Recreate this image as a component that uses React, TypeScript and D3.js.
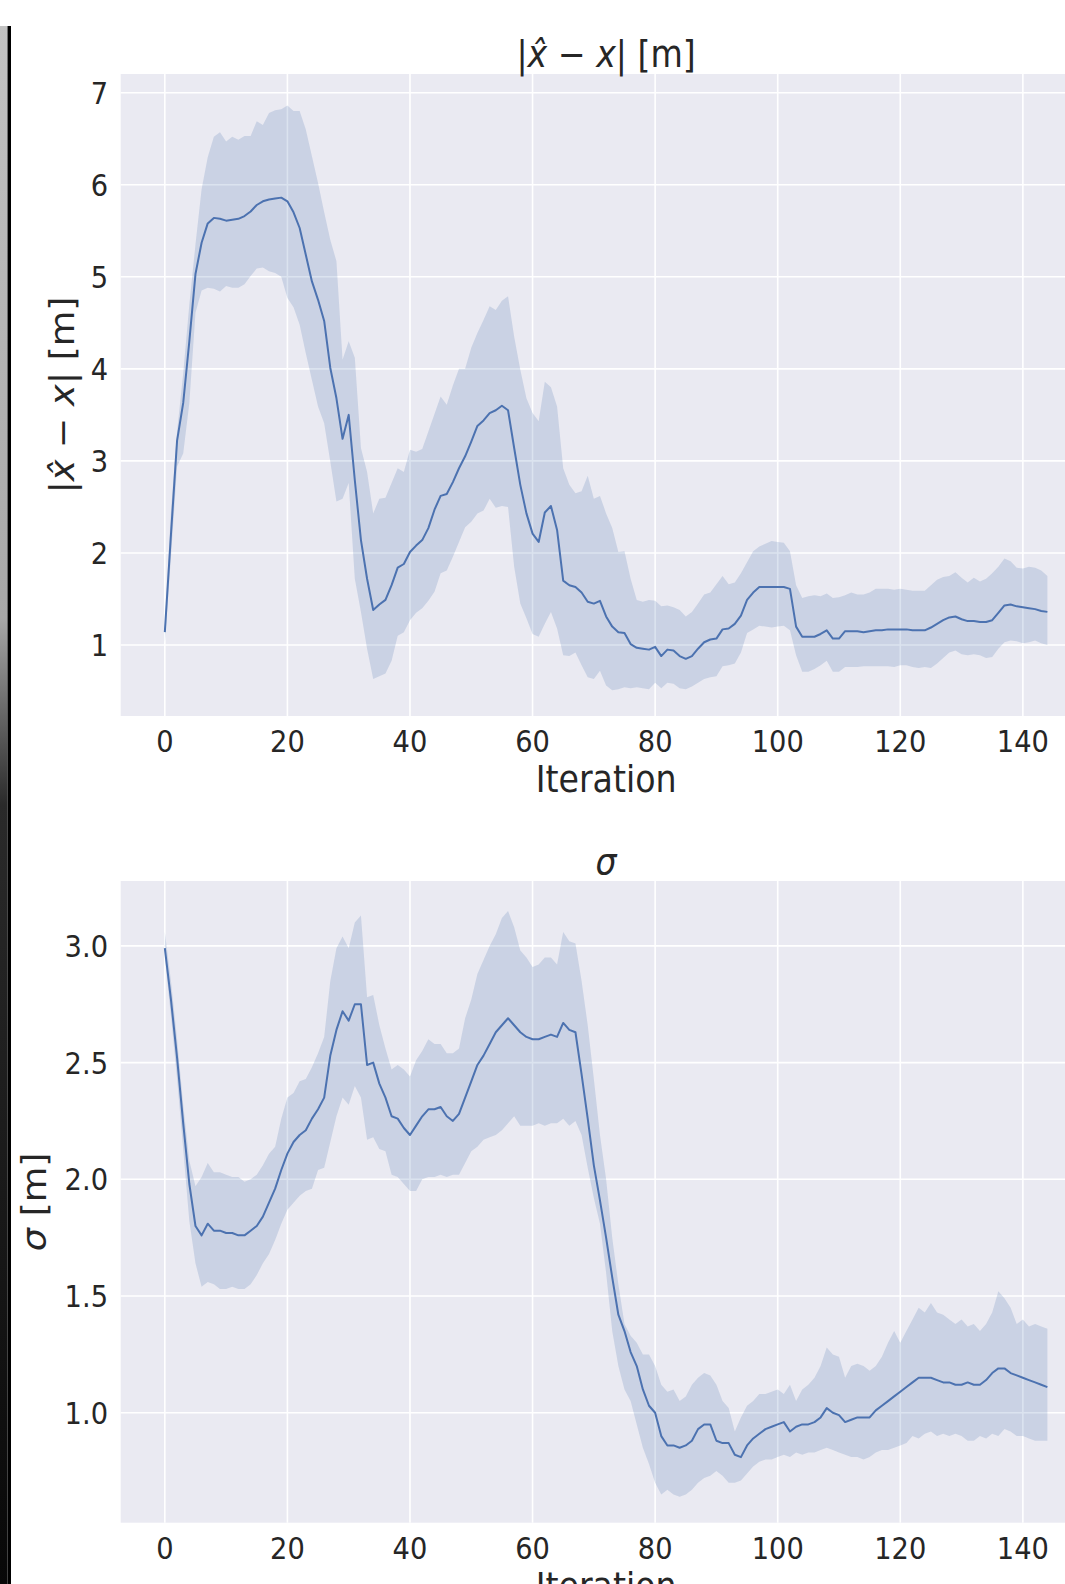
import React from 'react'
import * as d3 from 'd3'

// iterations 0..144, one value per iteration
const ITERATIONS = d3.range(145)
const X_TICKS = [0, 20, 40, 60, 80, 100, 120, 140]
const ERR_TICKS = [1, 2, 3, 4, 5, 6, 7]
const SIG_TICKS = [1.0, 1.5, 2.0, 2.5, 3.0]

// |x̂ - x| [m] — mean and CI band
const errMean = [
  1.14, 2.2, 3.22, 3.63, 4.3, 5.03, 5.37, 5.58, 5.64, 5.63, 5.61, 5.62, 5.63, 5.66, 5.71, 5.78, 5.82, 5.84, 5.85, 5.86,
  5.82, 5.7, 5.53, 5.24, 4.95, 4.75, 4.52, 4.01, 3.68, 3.24, 3.5, 2.79, 2.14, 1.72, 1.38, 1.44, 1.49, 1.65, 1.84, 1.88,
  2.01, 2.08, 2.14, 2.27, 2.47, 2.62, 2.64, 2.77, 2.92, 3.05, 3.21, 3.38, 3.44, 3.52, 3.55, 3.6, 3.55, 3.14, 2.74, 2.43,
  2.21, 2.12, 2.44, 2.51, 2.25, 1.7, 1.65, 1.63, 1.57, 1.47, 1.45, 1.48, 1.31, 1.2, 1.14, 1.13, 1.01, 0.97, 0.96, 0.95,
  0.98, 0.88, 0.95, 0.94, 0.88, 0.85, 0.88, 0.96, 1.03, 1.06, 1.07, 1.17, 1.18, 1.23, 1.32, 1.49, 1.57, 1.63, 1.63, 1.63,
  1.63, 1.63, 1.61, 1.2, 1.09, 1.09, 1.09, 1.12, 1.16, 1.07, 1.07, 1.15, 1.15, 1.15, 1.14, 1.15, 1.16, 1.16, 1.17, 1.17,
  1.17, 1.17, 1.16, 1.16, 1.16, 1.19, 1.23, 1.27, 1.3, 1.31, 1.28, 1.26, 1.26, 1.25, 1.25, 1.27, 1.35, 1.43, 1.44, 1.42,
  1.41, 1.4, 1.39, 1.37, 1.36,
]
const errLo = [
  1.02, 1.95, 2.94, 3.08, 3.63, 4.61, 4.85, 4.88, 4.87, 4.84, 4.9, 4.88, 4.88, 4.92, 5.01, 5.09, 5.1, 5.06, 5.04, 5.0,
  4.77, 4.67, 4.48, 4.17, 3.88, 3.59, 3.41, 2.99, 2.56, 2.59, 2.76, 1.72, 1.36, 0.96, 0.63, 0.66, 0.69, 0.83, 1.1, 1.14,
  1.27, 1.35, 1.4, 1.48, 1.58, 1.78, 1.81, 1.96, 2.12, 2.28, 2.34, 2.43, 2.46, 2.59, 2.49, 2.51, 2.5, 1.85, 1.45, 1.29,
  1.12, 1.09, 1.23, 1.36, 1.18, 0.89, 0.88, 0.92, 0.78, 0.65, 0.63, 0.72, 0.56, 0.51, 0.52, 0.54, 0.53, 0.54, 0.53, 0.52,
  0.59, 0.53, 0.59, 0.58, 0.53, 0.52, 0.55, 0.59, 0.63, 0.65, 0.66, 0.77, 0.78, 0.8, 0.92, 1.13, 1.17, 1.21, 1.2, 1.19,
  1.2, 1.21, 1.16, 0.89, 0.71, 0.71, 0.74, 0.78, 0.83, 0.71, 0.71, 0.76, 0.76, 0.76, 0.77, 0.77, 0.77, 0.77, 0.77, 0.76,
  0.78, 0.78, 0.76, 0.75, 0.76, 0.75, 0.8, 0.86, 0.92, 0.94, 0.9, 0.89, 0.9, 0.89, 0.86, 0.87, 0.96, 1.03, 1.05, 1.04,
  1.02, 1.03, 1.05, 1.02, 1.0,
]
const errHi = [
  1.2, 2.45, 3.32, 3.95, 4.7, 5.35, 5.95, 6.3, 6.52, 6.57, 6.47, 6.52, 6.49, 6.53, 6.53, 6.69, 6.65, 6.78, 6.81, 6.82,
  6.86, 6.8, 6.8, 6.6, 6.31, 6.02, 5.7, 5.4, 5.17, 4.1, 4.3, 4.12, 3.14, 2.88, 2.43, 2.59, 2.6, 2.76, 2.92, 2.88,
  3.12, 3.1, 3.13, 3.32, 3.51, 3.7, 3.61, 3.82, 4.0, 4.0, 4.23, 4.39, 4.53, 4.68, 4.64, 4.74, 4.79, 4.35, 3.99, 3.68,
  3.52, 3.43, 3.86, 3.8, 3.59, 2.92, 2.74, 2.65, 2.67, 2.84, 2.59, 2.62, 2.43, 2.27, 2.01, 2.02, 1.72, 1.49, 1.47, 1.49,
  1.48, 1.42, 1.43, 1.41, 1.38, 1.31, 1.36, 1.45, 1.55, 1.57, 1.66, 1.75, 1.66, 1.68, 1.78, 1.9, 2.02, 2.07, 2.1, 2.13,
  2.12, 2.11, 2.02, 1.65, 1.51, 1.53, 1.54, 1.53, 1.56, 1.51, 1.52, 1.54, 1.57, 1.55, 1.55, 1.57, 1.61, 1.61, 1.61, 1.6,
  1.61, 1.6, 1.59, 1.59, 1.59, 1.65, 1.71, 1.74, 1.75, 1.79, 1.73, 1.68, 1.73, 1.69, 1.72, 1.78, 1.85, 1.94, 1.91, 1.84,
  1.83, 1.85, 1.84, 1.81, 1.75,
]

// sigma [m] — mean and CI band
const sigMean = [
  2.99, 2.77, 2.52, 2.24, 1.98, 1.8, 1.76, 1.81, 1.78, 1.78, 1.77, 1.77, 1.76, 1.76, 1.78, 1.8, 1.84, 1.9, 1.96, 2.04,
  2.11, 2.16, 2.19, 2.21, 2.26, 2.3, 2.35, 2.53, 2.64, 2.72, 2.68, 2.75, 2.75, 2.49, 2.5, 2.41, 2.35, 2.27, 2.26, 2.22,
  2.19, 2.23, 2.27, 2.3, 2.3, 2.31, 2.27, 2.25, 2.28, 2.35, 2.42, 2.49, 2.53, 2.58, 2.63, 2.66, 2.69, 2.66, 2.63, 2.61,
  2.6, 2.6, 2.61, 2.62, 2.61, 2.67, 2.64, 2.63, 2.45, 2.26, 2.06, 1.91, 1.75, 1.58, 1.42, 1.35, 1.26, 1.2, 1.1, 1.03,
  1.0, 0.9, 0.86, 0.86, 0.85, 0.86, 0.88, 0.93, 0.95, 0.95, 0.88, 0.87, 0.87, 0.82, 0.81, 0.86, 0.89, 0.91, 0.93, 0.94,
  0.95, 0.96, 0.92, 0.94, 0.95, 0.95, 0.96, 0.98, 1.02, 1.0, 0.99, 0.96, 0.97, 0.98, 0.98, 0.98, 1.01, 1.03, 1.05, 1.07,
  1.09, 1.11, 1.13, 1.15, 1.15, 1.15, 1.14, 1.13, 1.13, 1.12, 1.12, 1.13, 1.12, 1.12, 1.14, 1.17, 1.19, 1.19, 1.17, 1.16,
  1.15, 1.14, 1.13, 1.12, 1.11,
]
const sigLo = [
  2.95, 2.7, 2.43, 2.13, 1.82, 1.64, 1.54, 1.56, 1.55, 1.53, 1.53, 1.54, 1.53, 1.53, 1.55, 1.59, 1.64, 1.68, 1.74, 1.81,
  1.87, 1.9, 1.93, 1.95, 1.96, 2.04, 2.05, 2.16, 2.27, 2.35, 2.32, 2.4, 2.35, 2.17, 2.18, 2.13, 2.12, 2.02, 2.01, 1.98,
  1.95, 1.95, 2.0, 2.01, 2.01, 2.02, 2.01, 2.02, 2.02, 2.07, 2.12, 2.14, 2.17, 2.18, 2.19, 2.21, 2.24, 2.27, 2.23, 2.23,
  2.23, 2.24, 2.23, 2.24, 2.24, 2.26, 2.23, 2.25, 2.19, 2.05, 1.92, 1.81, 1.6, 1.35, 1.2, 1.1, 1.05, 0.95, 0.85, 0.78,
  0.7, 0.65, 0.67, 0.65, 0.64, 0.65, 0.67, 0.7, 0.72, 0.73, 0.75, 0.73, 0.7, 0.7, 0.71, 0.74, 0.77, 0.79, 0.8, 0.8,
  0.81, 0.82, 0.81, 0.83, 0.82, 0.83, 0.83, 0.84, 0.85, 0.84, 0.83, 0.82, 0.81, 0.81, 0.8, 0.81, 0.83, 0.84, 0.84, 0.85,
  0.86, 0.87, 0.9, 0.89, 0.91, 0.92, 0.9, 0.91, 0.9, 0.91, 0.9, 0.88, 0.88, 0.9, 0.89, 0.91, 0.9, 0.93, 0.92, 0.9,
  0.9, 0.89, 0.88, 0.88, 0.88,
]
const sigHi = [
  3.06, 2.85, 2.6, 2.32, 2.08, 1.97, 2.01, 2.07, 2.03, 2.03, 2.02, 2.01, 2.01, 1.99, 2.0, 2.02, 2.06, 2.11, 2.14, 2.26,
  2.35, 2.37, 2.42, 2.43, 2.48, 2.54, 2.61, 2.85, 2.99, 3.04, 2.99, 3.1, 3.13, 2.78, 2.79, 2.66, 2.56, 2.47, 2.49, 2.47,
  2.44, 2.51, 2.55, 2.6, 2.58, 2.58, 2.54, 2.54, 2.56, 2.69, 2.77, 2.88, 2.94, 3.0, 3.05, 3.12, 3.15, 3.08, 2.98, 2.95,
  2.91, 2.92, 2.95, 2.95, 2.92, 3.06, 3.02, 3.01, 2.85, 2.66, 2.43, 2.19, 2.0, 1.75, 1.55, 1.38, 1.33, 1.3, 1.25, 1.25,
  1.2, 1.12, 1.09, 1.1, 1.05, 1.07, 1.12, 1.15, 1.17, 1.16, 1.12, 1.05, 1.02, 0.92, 0.98, 1.03, 1.05, 1.08, 1.08, 1.09,
  1.1, 1.08, 1.12, 1.05, 1.1, 1.12, 1.15, 1.2, 1.28, 1.25, 1.24, 1.15, 1.2, 1.21, 1.2, 1.18, 1.2, 1.24, 1.3, 1.35,
  1.3, 1.35, 1.4, 1.45, 1.43, 1.47, 1.43, 1.42, 1.4, 1.38, 1.4, 1.37, 1.38, 1.35, 1.38, 1.43, 1.52, 1.49, 1.45, 1.38,
  1.4, 1.37, 1.38, 1.37, 1.36,
]

const W = 1065
const H = 1584
const FONT = '"DejaVu Sans", Verdana, sans-serif'
const SQUISH = 0.91 // the source picture is narrowed horizontally
const INK = '#262626'
const BG = '#EAEAF2'
const LINE = '#4C72B0'
const TICK_SIZE = 30
const LABEL_SIZE = 36.5

const PLOT_LEFT = 120.7
const PLOT_RIGHT = 1091.5 // runs past the right edge of the picture
const X_DOMAIN = [-7.2, 151.2]

function Txt({ x, y, size, anchor = 'middle', rotate = 0, children }) {
  const tf = `translate(${x},${y}) scale(${SQUISH},1)` + (rotate ? ` rotate(${rotate})` : '')
  return (
    <text transform={tf} fontFamily={FONT} fontSize={size} fill={INK} textAnchor={anchor}>
      {children}
    </text>
  )
}

function Panel({ top, bottom, yDomain, yTicks, fmt, mean, lo, hi, title, ylabel, ylabelX }) {
  const x = d3.scaleLinear().domain(X_DOMAIN).range([PLOT_LEFT, PLOT_RIGHT])
  const y = d3.scaleLinear().domain(yDomain).range([bottom, top])
  const n = Math.min(mean.length, lo.length, hi.length)
  const pts = ITERATIONS.slice(0, n)

  const band = d3.area<number>()
    .x(i => x(i))
    .y0(i => y(lo[i]))
    .y1(i => y(hi[i]))
  const line = d3.line<number>()
    .x(i => x(i))
    .y(i => y(mean[i]))

  const midX = (PLOT_LEFT + PLOT_RIGHT) / 2
  const midY = (top + bottom) / 2

  return (
    <g>
      <rect x={PLOT_LEFT} y={top} width={PLOT_RIGHT - PLOT_LEFT} height={bottom - top} fill={BG} />
      {yTicks.map(t => (
        <line key={'gy' + t} x1={PLOT_LEFT} x2={PLOT_RIGHT} y1={y(t)} y2={y(t)} stroke="#fff" strokeWidth={1.6} />
      ))}
      {X_TICKS.map(t => (
        <line key={'gx' + t} x1={x(t)} x2={x(t)} y1={top} y2={bottom} stroke="#fff" strokeWidth={1.6} />
      ))}
      <path d={band(pts) || ''} fill={LINE} fillOpacity={0.2} stroke="none" />
      <path d={line(pts) || ''} fill="none" stroke={LINE} strokeWidth={2} strokeLinejoin="round" />

      {yTicks.map(t => (
        <Txt key={'ty' + t} x={108} y={y(t) + 10.9} size={TICK_SIZE} anchor="end">{fmt(t)}</Txt>
      ))}
      {X_TICKS.map(t => (
        <Txt key={'tx' + t} x={x(t)} y={bottom + 36} size={TICK_SIZE}>{String(t)}</Txt>
      ))}
      <Txt x={midX} y={bottom + 76} size={LABEL_SIZE}>Iteration</Txt>
      <Txt x={midX} y={top - 7} size={LABEL_SIZE}>{title}</Txt>
      <Txt x={ylabelX} y={midY} size={LABEL_SIZE} rotate={-90}>{ylabel}</Txt>
    </g>
  )
}

const errText = (
  <>
    <tspan>|</tspan>
    <tspan fontStyle="italic">{'x\u0302'}</tspan>
    <tspan>{' \u2212 '}</tspan>
    <tspan fontStyle="italic">x</tspan>
    <tspan>{'|  [m]'}</tspan>
  </>
)
const sigTitle = <tspan fontStyle="italic">σ</tspan>
const sigLabel = (
  <>
    <tspan fontStyle="italic">σ</tspan>
    <tspan>{' [m]'}</tspan>
  </>
)

export default function App() {
  return (
    <svg
      width={W}
      height={H}
      viewBox={`0 0 ${W} ${H}`}
      style={{ position: 'absolute', left: 0, top: 0, display: 'block', background: '#fff' }}
    >
      <defs>
        <linearGradient id="edge" x1="0" y1="0" x2="0" y2="1">
          <stop offset="0" stopColor="#c2c2c2" />
          <stop offset="0.38" stopColor="#a8a8a8" />
          <stop offset="0.5" stopColor="#2a2a2a" />
          <stop offset="1" stopColor="#080808" />
        </linearGradient>
      </defs>
      <rect x={0} y={0} width={W} height={H} fill="#fff" />
      {/* scanned left edge */}
      <rect x={0} y={26} width={7.5} height={H - 26} fill="url(#edge)" />
      <rect x={7.5} y={26} width={3.5} height={H - 26} fill="#000" />

      <Panel
        top={74}
        bottom={716}
        yDomain={[0.229, 7.203]}
        yTicks={ERR_TICKS}
        fmt={d => String(d)}
        mean={errMean}
        lo={errLo}
        hi={errHi}
        title={errText}
        ylabel={errText}
        ylabelX={73.5}
      />
      <Panel
        top={881}
        bottom={1522.7}
        yDomain={[0.529, 3.278]}
        yTicks={SIG_TICKS}
        fmt={d => d.toFixed(1)}
        mean={sigMean}
        lo={sigLo}
        hi={sigHi}
        title={sigTitle}
        ylabel={sigLabel}
        ylabelX={46}
      />
    </svg>
  )
}
